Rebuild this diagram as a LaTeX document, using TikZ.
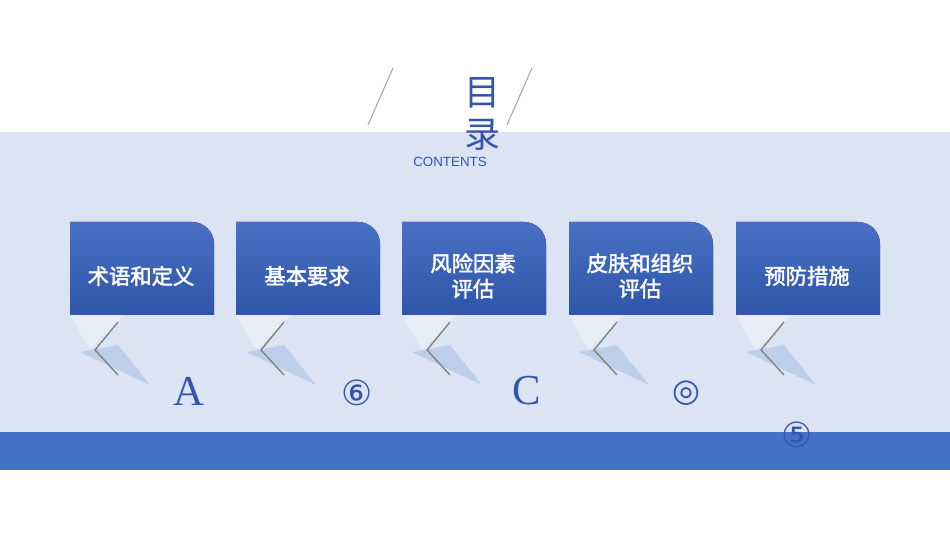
\documentclass[tikz,border=0pt]{standalone}
\usepackage{fontspec}
\setmainfont{Liberation Serif}
\newfontfamily\cjk{Noto Sans CJK SC}
\newfontfamily\cjkb{Noto Sans CJK SC}[FakeBold=2]
\newfontfamily\dejavu{DejaVu Sans}
\newfontfamily\arialx{Liberation Sans}
\definecolor{band}{HTML}{DCE3F3}
\definecolor{dark}{HTML}{4472C4}
\definecolor{ctop}{HTML}{4A70C6}
\definecolor{cbot}{HTML}{2F55A8}
\definecolor{tx}{HTML}{3355B0}
\begin{document}
\begin{tikzpicture}[x=0.75pt,y=-0.75pt,
  card/.style={top color=ctop,bottom color=cbot,draw=none},
  lab/.style={text=white,font=\cjkb\fontsize{16}{19}\selectfont,align=center},
  sym/.style={text=tx}]
\useasboundingbox (0,0) rectangle (950,534);
\fill[white] (0,0) rectangle (950,534);
\fill[band] (0,132) rectangle (950,432);
\fill[dark] (0,432) rectangle (950,470);
\draw[gray!70,line width=0.8pt] (368,125) -- (393,68) (507,125) -- (532,68);
\node[text=tx,font=\cjk\fontsize{27}{32}\selectfont,align=center] (title) at (482,114) {目\\录};
\node[text=tx,font=\arialx\fontsize{10}{12}\selectfont] (cont) at (450,162) {CONTENTS};
\foreach \x/\n/\t in {70/c1/术语和定义,236/c2/基本要求,402/c3/{风险因素\\评估},569/c4/{皮肤和组织\\评估},736/c5/预防措施}{
  \fill[card] (\x,315) -- (\x,222) -- (\x+122,222) arc[start angle=-90,end angle=0,radius=22] -- (\x+144,315) -- cycle;
  \fill[white,opacity=0.35] (\x,315) -- (\x+55,315) -- (\x+20,350) -- cycle;
  \fill[dark!35] (\x+10,352) -- (\x+48,345) -- (\x+80,385) -- cycle;
  \draw[gray,line width=1pt] (\x+48,322) -- (\x+25,350) -- (\x+48,375);
  \node[lab] (\n) at (\x+71,276) {\t};
}
\node[sym,font=\fontsize{32}{36}\selectfont] (a) at (189,391) {A};
\node[sym,font=\dejavu\fontsize{26}{30}\selectfont] (b) at (357,393) {⑥};
\node[sym,font=\fontsize{32}{36}\selectfont] (c) at (527,391) {C};
\node[sym,font=\dejavu\fontsize{24}{28}\selectfont] (d) at (686,393) {◎};
\node[sym,font=\dejavu\fontsize{26}{30}\selectfont] (e) at (797,435) {⑤};
\end{tikzpicture}
\end{document}
